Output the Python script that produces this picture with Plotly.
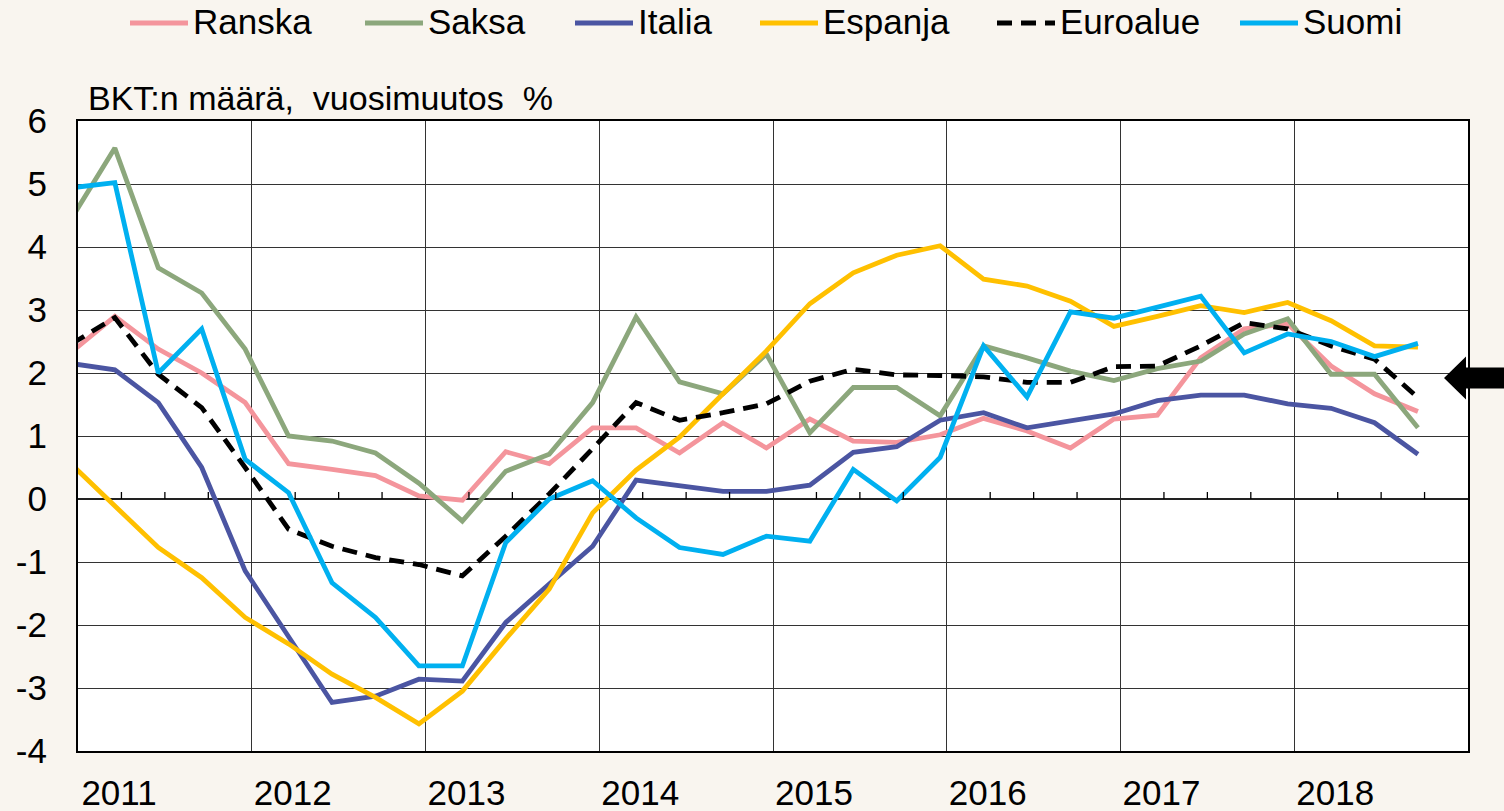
import plotly.graph_objects as go

# ---------------- data ----------------
quarters = [f"{y}Q{q}" for y in range(2011, 2019) for q in range(1, 5)]
years = [2011, 2012, 2013, 2014, 2015, 2016, 2017, 2018]
year_labels = ["2011", "2012", "2013", "2014", "2015", "2016", "2017", "2018"]
y_ticks = [-4, -3, -2, -1, 0, 1, 2, 3, 4, 5, 6]

series_names = ["Ranska", "Saksa", "Italia", "Espanja", "Euroalue", "Suomi"]

ranska = [2.33, 2.90, 2.38, 2.00, 1.53, 0.56, 0.47, 0.37, 0.05, -0.02, 0.75, 0.56,
          1.13, 1.13, 0.73, 1.21, 0.81, 1.27, 0.92, 0.90, 1.02, 1.28, 1.08, 0.81,
          1.27, 1.33, 2.24, 2.70, 2.78, 2.11, 1.67, 1.39]
saksa = [4.45, 5.57, 3.67, 3.27, 2.38, 1.00, 0.92, 0.73, 0.25, -0.35, 0.44, 0.71,
         1.53, 2.89, 1.86, 1.67, 2.30, 1.05, 1.77, 1.77, 1.32, 2.43, 2.24, 2.03,
         1.88, 2.07, 2.19, 2.62, 2.86, 1.98, 1.98, 1.13]
italia = [2.15, 2.05, 1.53, 0.50, -1.14, -2.20, -3.23, -3.13, -2.86, -2.89, -1.96, -1.35,
          -0.75, 0.30, 0.21, 0.12, 0.12, 0.22, 0.74, 0.83, 1.25, 1.37, 1.13, 1.24,
          1.35, 1.56, 1.65, 1.65, 1.51, 1.44, 1.21, 0.71]
espanja = [0.55, -0.12, -0.77, -1.25, -1.88, -2.30, -2.78, -3.15, -3.57, -3.05, -2.22, -1.43,
           -0.22, 0.46, 0.98, 1.67, 2.35, 3.10, 3.59, 3.87, 4.02, 3.49, 3.38, 3.14,
           2.74, 2.90, 3.07, 2.96, 3.12, 2.83, 2.43, 2.41]
euroalue = [2.46, 2.88, 1.98, 1.45, 0.50, -0.48, -0.75, -0.93, -1.04, -1.22, -0.59, 0.08,
            0.80, 1.53, 1.25, 1.37, 1.51, 1.87, 2.06, 1.97, 1.96, 1.94, 1.85, 1.85,
            2.10, 2.11, 2.43, 2.80, 2.70, 2.43, 2.22, 1.61]
suomi = [4.94, 5.02, 2.00, 2.70, 0.63, 0.10, -1.33, -1.88, -2.65, -2.65, -0.69, 0.00,
         0.29, -0.30, -0.77, -0.88, -0.59, -0.67, 0.47, -0.03, 0.66, 2.43, 1.62, 2.97,
         2.87, 3.04, 3.22, 2.32, 2.62, 2.50, 2.26, 2.47]

arrow_value = 1.92

# ---------------- styles ----------------
colors = ["#F4959C", "#8CA77C", "#4B55A2", "#FFC000", "#000000", "#00B0F0"]
dashes = ["solid", "solid", "solid", "solid", "15px,9px", "solid"]
FONT = "Liberation Sans, Arial, sans-serif"
BG = "#F9F5EF"
GRID = "#333333"
POINT_SHIFT = -0.038  # data points sit slightly before the quarter tick

W, H = 1504, 811
L, R, T, B = 78, 36, 121, 60
PW, PH = W - L - R, H - T - B


def px_to_paper_x(px):
    return (px - L) / PW


def px_to_paper_y(py):
    return (H - B - py) / PH


xq = [int(q[:4]) + (int(q[-1]) - 1) / 4 + POINT_SHIFT for q in quarters]
all_series = [ranska, saksa, italia, espanja, euroalue, suomi]

fig = go.Figure()
for name, vals, col, dsh in zip(series_names, all_series, colors, dashes):
    fig.add_trace(go.Scatter(
        x=xq, y=vals, mode="lines", name=name,
        line=dict(color=col, width=4.8, dash=dsh),
        showlegend=False, hoverinfo="x+y+name",
    ))

shapes = []
# quarter tick marks on the zero line
for yr in years:
    for q in (1, 2, 3):
        shapes.append(dict(
            type="line", xref="x", yref="y", x0=yr + q / 4, x1=yr + q / 4,
            ysizemode="pixel", yanchor=0, y0=0, y1=7,
            line=dict(color="black", width=1.3), layer="above",
        ))

# custom legend
legend_px = [130, 365, 575, 760, 997, 1240]
legend_py = 22
annotations = []
for name, col, dsh, sx in zip(series_names, colors, dashes, legend_px):
    shapes.append(dict(
        type="line", xref="paper", yref="paper",
        x0=px_to_paper_x(sx), x1=px_to_paper_x(sx + 58),
        y0=px_to_paper_y(legend_py + 1), y1=px_to_paper_y(legend_py + 1),
        line=dict(color=col, width=5, dash=dsh),
    ))
    annotations.append(dict(
        text=name, xref="paper", yref="paper",
        x=px_to_paper_x(sx + 61), y=px_to_paper_y(legend_py),
        xanchor="left", yanchor="middle", showarrow=False,
        font=dict(family=FONT, size=35, color="black"),
    ))

# title text above the plot
annotations.append(dict(
    text="BKT:n määrä,\u00a0 vuosimuutos\u00a0 %", xref="paper", yref="paper",
    x=px_to_paper_x(86), y=px_to_paper_y(98), xanchor="left", yanchor="middle",
    showarrow=False, font=dict(family=FONT, size=34, color="black"),
))

# black arrow on the right edge
hx0 = px_to_paper_x(1444)
hx1 = px_to_paper_x(1466)
hx2 = px_to_paper_x(1506)
hh, sh = 0.34, 0.167
a = arrow_value
path = (f"M {hx0},{a} L {hx1},{a + hh} L {hx1},{a + sh} L {hx2},{a + sh} "
        f"L {hx2},{a - sh} L {hx1},{a - sh} L {hx1},{a - hh} Z")
shapes.append(dict(type="path", xref="paper", yref="y", path=path,
                   fillcolor="black", line=dict(color="black", width=0)))

fig.update_layout(
    width=W, height=H,
    margin=dict(l=L, r=R, t=T, b=B, pad=0, autoexpand=False),
    paper_bgcolor=BG, plot_bgcolor="white",
    font=dict(family=FONT, size=35, color="black"),
    shapes=shapes, annotations=annotations,
    showlegend=False,
)
fig.update_xaxes(
    range=[2011, 2019], tickmode="array", tickvals=years, ticktext=year_labels,
    ticklabelshift=41, ticklabelstandoff=10, ticks="", automargin=False,
    showgrid=True, gridcolor=GRID, gridwidth=1.3,
    showline=True, mirror=True, linecolor="black", linewidth=2.2,
    zeroline=False, tickfont=dict(family=FONT, size=35, color="black"),
)
fig.update_yaxes(
    range=[-4, 6], tickmode="array", tickvals=y_ticks,
    ticktext=[str(v) for v in y_ticks], ticks="", ticklabelstandoff=22,
    automargin=False,
    showgrid=True, gridcolor=GRID, gridwidth=1.3,
    zeroline=True, zerolinecolor="#222222", zerolinewidth=1.6,
    showline=True, mirror=True, linecolor="black", linewidth=2.2,
    tickfont=dict(family=FONT, size=35, color="black"),
)

fig.write_html(
    "out.html",
    config={"displayModeBar": False},
    post_script=("document.body.style.margin='0';"
                 "document.body.style.background='" + BG + "';"
                 "document.body.style.overflow='hidden';"),
)
